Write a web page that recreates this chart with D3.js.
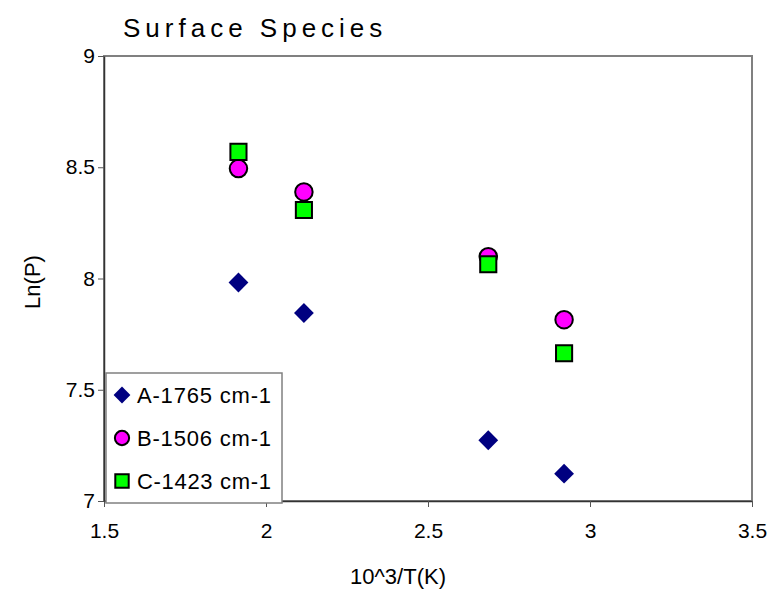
<!DOCTYPE html>
<html>
<head>
<meta charset="utf-8">
<script src="https://cdn.jsdelivr.net/npm/d3@7"></script>
<style>
  body { margin: 0; background: #fff; }
  text { font-family: "Liberation Sans", Arial, sans-serif; }
</style>
</head>
<body>
<div id="chart"></div>
<script>
// data
const seriesNames = ["A-1765 cm-1", "B-1506 cm-1", "C-1423 cm-1"];
const xValues = [1.915, 2.117, 2.686, 2.92];
const seriesA = [7.982, 7.845, 7.273, 7.123];
const seriesB = [8.494, 8.389, 8.098, 7.815];
const seriesC = [8.569, 8.308, 8.064, 7.664];
const xTicks = [1.5, 2, 2.5, 3, 3.5];
const yTicks = [7, 7.5, 8, 8.5, 9];

const width = 775, height = 590;
const plot = {left: 104, right: 752, top: 56, bottom: 501};

let svg = d3.select("#chart")
  .append("svg")
  .attr("width", width)
  .attr("height", height);

let x = d3.scaleLinear().domain([1.5, 3.5]).range([plot.left, plot.right]);
let y = d3.scaleLinear().domain([7, 9]).range([plot.bottom, plot.top]);

// plot area border (gray)
svg.append("rect")
  .attr("x", plot.left)
  .attr("y", plot.top)
  .attr("width", plot.right - plot.left)
  .attr("height", plot.bottom - plot.top)
  .attr("fill", "#fff")
  .attr("stroke", "#808080")
  .attr("stroke-width", 2);

// axes
let xAxis = d3.axisBottom(x)
  .tickValues(xTicks)
  .tickSize(6)
  .tickSizeOuter(0)
  .tickFormat(d3.format("~g"));
let gx = svg.append("g")
  .attr("transform", `translate(0,${plot.bottom})`)
  .call(xAxis);
gx.select(".domain").attr("stroke", "#333").attr("stroke-width", 1.5);
gx.selectAll(".tick line").attr("stroke", "#555");
gx.selectAll(".tick text")
  .attr("y", 22)
  .attr("dy", "0.71em")
  .attr("fill", "#000")
  .style("font-size", "21px");

let yAxis = d3.axisLeft(y)
  .tickValues(yTicks)
  .tickSize(6)
  .tickSizeOuter(0)
  .tickFormat(d3.format("~g"));
let gy = svg.append("g")
  .attr("transform", `translate(${plot.left},0)`)
  .call(yAxis);
gy.select(".domain").attr("stroke", "#333").attr("stroke-width", 1.5);
gy.selectAll(".tick line").attr("stroke", "#555");
gy.selectAll(".tick text")
  .attr("x", -9)
  .attr("fill", "#000")
  .style("font-size", "21px");

// markers
const sym = {
  diamond: d3.symbol().type(d3.symbolDiamond2).size(250),
  circle: d3.symbol().type(d3.symbolCircle).size(240),
  square: d3.symbol().type(d3.symbolSquare).size(260)
};

function drawSeries(values, path, fill, stroke) {
  svg.append("g")
    .selectAll("path")
    .data(values)
    .enter()
      .append("path")
      .attr("d", path)
      .attr("transform", (d, i) => `translate(${x(xValues[i])},${y(d)})`)
      .attr("fill", fill)
      .attr("stroke", stroke)
      .attr("stroke-width", stroke === "none" ? 0 : 2);
}
drawSeries(seriesA, sym.diamond, "#000080", "none");
drawSeries(seriesB, sym.circle, "#ff00ff", "#000");
drawSeries(seriesC, sym.square, "#00ff00", "#000");

// legend
let legend = svg.append("g");
legend.append("rect")
  .attr("x", 106)
  .attr("y", 373)
  .attr("width", 176)
  .attr("height", 130)
  .attr("fill", "#fff")
  .attr("stroke", "#808080")
  .attr("stroke-width", 1.5);

const legendMarks = [
  {path: d3.symbol().type(d3.symbolDiamond2).size(180), fill: "#000080", stroke: "none"},
  {path: d3.symbol().type(d3.symbolCircle).size(160), fill: "#ff00ff", stroke: "#000"},
  {path: d3.symbol().type(d3.symbolSquare).size(180), fill: "#00ff00", stroke: "#000"}
];
let items = legend.selectAll("g.item")
  .data(seriesNames)
  .enter()
    .append("g")
    .attr("class", "item")
    .attr("transform", (d, i) => `translate(122,${395 + i * 43})`);
items.append("path")
  .attr("d", (d, i) => legendMarks[i].path())
  .attr("fill", (d, i) => legendMarks[i].fill)
  .attr("stroke", (d, i) => legendMarks[i].stroke)
  .attr("stroke-width", (d, i) => legendMarks[i].stroke === "none" ? 0 : 2);
items.append("text")
  .attr("x", 15)
  .attr("dy", "0.36em")
  .style("font-size", "22px")
  .attr("textLength", 134)
  .text(d => d);

// titles
svg.append("text")
  .attr("x", 123)
  .attr("y", 37)
  .style("font-size", "26px")
  .style("letter-spacing", "5px")
  .text("Surface Species");

svg.append("text")
  .attr("x", 398)
  .attr("y", 584)
  .attr("text-anchor", "middle")
  .style("font-size", "22px")
  .text("10^3/T(K)");

svg.append("text")
  .attr("transform", `translate(40,282) rotate(-90)`)
  .attr("text-anchor", "middle")
  .style("font-size", "22px")
  .text("Ln(P)");
</script>
</body>
</html>
